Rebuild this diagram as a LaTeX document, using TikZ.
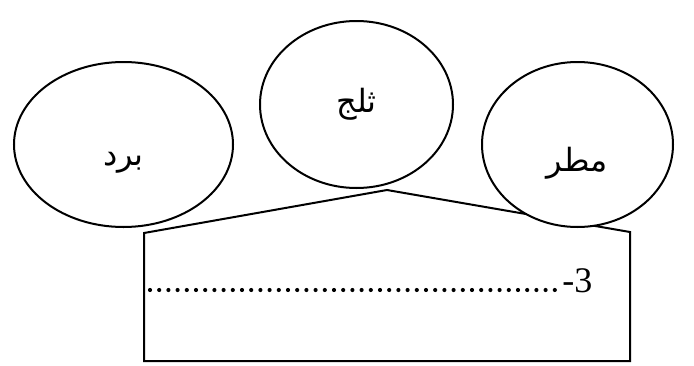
\documentclass[tikz,border=0pt]{standalone}
\usepackage{fontspec}
\usepackage{tikz}
\usetikzlibrary{shapes.geometric}
\setmainfont{Liberation Serif}
\newfontfamily\arabicfont[Script=Arabic]{DejaVu Sans}
\TeXXeTstate=1

\tikzset{
  bubble/.style={ellipse, draw=black, fill=white, line width=1.5pt, inner sep=0pt},
  word/.style={font=\arabicfont\fontsize{24}{27}\selectfont, inner sep=0pt},
}

\begin{document}
\begin{tikzpicture}[x=0.75pt, y=-0.75pt]
\useasboundingbox (0,0) rectangle (694,365);
\draw[line width=1.5pt, line join=miter] (144,361) -- (144,233) -- (387,190) -- (630,232) -- (630,361) -- cycle;
\foreach \name/\x/\y/\w/\h/\dy/\word in {bard/123.5/144.5/219/165/18.5/برد,
thalj/356.5/104.5/193/167/0/ثلج, matar/577.5/144.5/191/165/18.5/مطر}
{
  \node[bubble, minimum width=\w*0.75pt, minimum height=\h*0.75pt] (\name) at (\x,\y) {};
  \node[word] (\name text) at ([yshift=-\dy*0.75pt]\name.center) {\beginR\word\endR};
}
\node[font=\fontsize{27}{30}\selectfont, inner sep=0pt, anchor=base west] (item) at (562,292) {-3};
\coordinate (dotstart) at (150,290);
\draw[line width=3.1pt, line cap=round, dash pattern=on 0pt off 9.2*0.75pt] (dotstart) -- ([xshift=-3pt]item.west |- dotstart);
\end{tikzpicture}
\end{document}
